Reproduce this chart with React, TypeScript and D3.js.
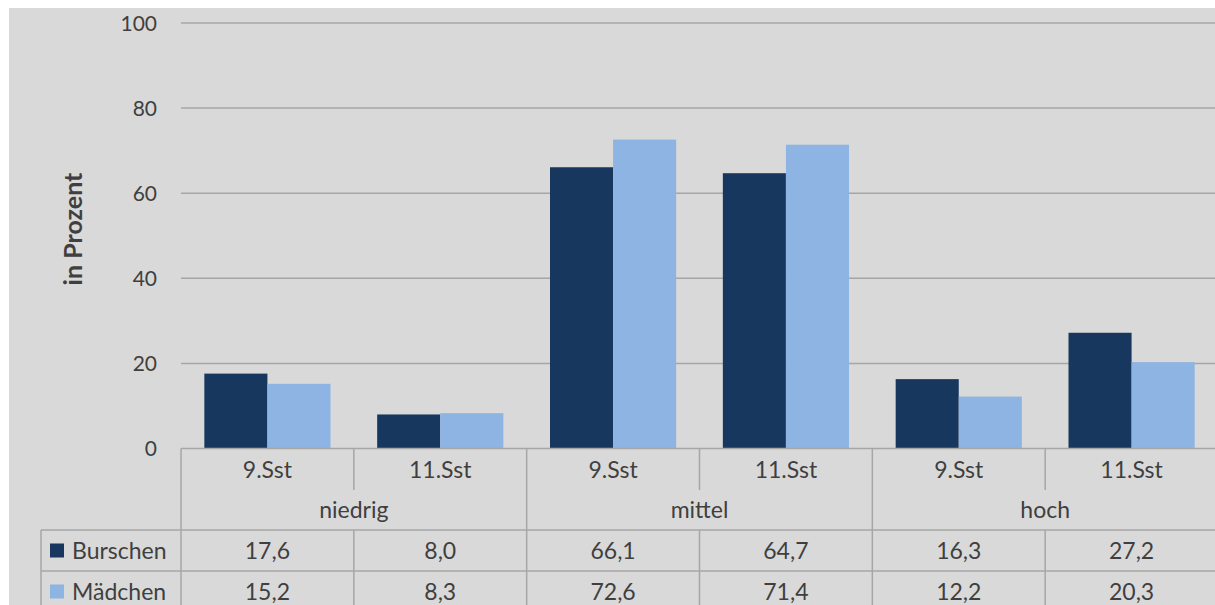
import React from "react";
import * as d3 from "d3";

const groups = ["niedrig", "mittel", "hoch"];
const stages = ["9.Sst", "11.Sst"];
const series = ["Burschen", "Mädchen"];
const burschen = [17.6, 8.0, 66.1, 64.7, 16.3, 27.2];
const maedchen = [15.2, 8.3, 72.6, 71.4, 12.2, 20.3];
const yTicks = [0, 20, 40, 60, 80, 100];
const colors = ["#17375e", "#8eb4e3"];

const W = 1215, H = 605;
const FONT = "Lato, 'Open Sans', sans-serif";
const FS = 23;

export default function App() {
  const left = 181, right = 1218;
  const y = d3.scaleLinear().domain([0, 100]).range([448.5, 23]);
  const cats = groups.flatMap((g) => stages.map((s) => `${g}|${s}`));
  const x = d3.scaleBand().domain(cats).range([left, right]).paddingInner(0).paddingOuter(0);
  const inner = d3.scaleBand().domain(series).range([0, x.bandwidth()]).paddingInner(0).paddingOuter(0.37);
  const values = [burschen, maedchen];
  const fmt = (v: number) => v.toFixed(1).replace(".", ",");

  const y0 = y(0);
  const rowCat = [y0, 490];
  const rowGrp = [490, 530];
  const rowS = [[530, 571], [571, 612]];
  const lineCol = "#a6a6a6";
  const textCol = "#3f3f3f";

  return (
    <svg width={W} height={H} style={{ position: "absolute", left: 0, top: 0 }}>
      <rect x={9} y={8} width={W - 9} height={H - 8} fill="#d9d9d9" />
      {yTicks.map((t) => (
        <g key={t}>
          {t > 0 && <line x1={left} x2={right} y1={y(t)} y2={y(t)} stroke={lineCol} strokeWidth={1.5} />}
          <text x={157} y={y(t)} dy="0.36em" textAnchor="end" fontFamily={FONT} fontSize={21} fill={textCol}>{t}</text>
        </g>
      ))}
      <text transform={`translate(82,229) rotate(-90)`} textAnchor="middle" fontFamily={FONT} fontSize={25} fontWeight="bold" fill={textCol}>in Prozent</text>
      {cats.map((c, i) => (
        <g key={c}>
          {series.map((s, k) => (
            <rect key={s} x={(x(c) as number) + (inner(s) as number)} width={inner.bandwidth()} y={y(values[k][i])} height={y0 - y(values[k][i])} fill={colors[k]} />
          ))}
        </g>
      ))}
      {/* table */}
      <line x1={left} x2={right} y1={y0} y2={y0} stroke={lineCol} strokeWidth={1.5} />
      <line x1={41} x2={right} y1={rowS[0][0]} y2={rowS[0][0]} stroke={lineCol} strokeWidth={1.5} />
      <line x1={41} x2={right} y1={rowS[1][0]} y2={rowS[1][0]} stroke={lineCol} strokeWidth={1.5} />
      <line x1={41} x2={41} y1={rowS[0][0]} y2={H} stroke={lineCol} strokeWidth={1.5} />
      {cats.map((c, i) => {
        const xs = x(c) as number;
        const full = i % 2 === 0;
        return (
          <g key={c}>
            <line x1={xs} x2={xs} y1={y0} y2={full ? H : rowCat[1]} stroke={lineCol} strokeWidth={1.5} />
            {!full && <line x1={xs} x2={xs} y1={rowS[0][0]} y2={H} stroke={lineCol} strokeWidth={1.5} />}
            <text x={xs + x.bandwidth() / 2} y={(rowCat[0] + rowCat[1]) / 2} dy="0.36em" textAnchor="middle" fontFamily={FONT} fontSize={FS} fill={textCol}>{c.split("|")[1]}</text>
            {series.map((s, k) => (
              <text key={s} x={xs + x.bandwidth() / 2} y={(rowS[k][0] + rowS[k][1]) / 2} dy="0.36em" textAnchor="middle" fontFamily={FONT} fontSize={FS} fill={textCol}>{fmt(values[k][i])}</text>
            ))}
          </g>
        );
      })}
      {groups.map((g) => {
        const xs = x(`${g}|${stages[0]}`) as number;
        return (
          <text key={g} x={xs + x.bandwidth()} y={(rowGrp[0] + rowGrp[1]) / 2} dy="0.36em" textAnchor="middle" fontFamily={FONT} fontSize={FS} fill={textCol}>{g}</text>
        );
      })}
      {series.map((s, k) => (
        <g key={s}>
          <rect x={50} y={(rowS[k][0] + rowS[k][1]) / 2 - 7} width={14} height={14} fill={colors[k]} />
          <text x={72} y={(rowS[k][0] + rowS[k][1]) / 2} dy="0.36em" fontFamily={FONT} fontSize={FS} fill={textCol}>{s}</text>
        </g>
      ))}
    </svg>
  );
}
